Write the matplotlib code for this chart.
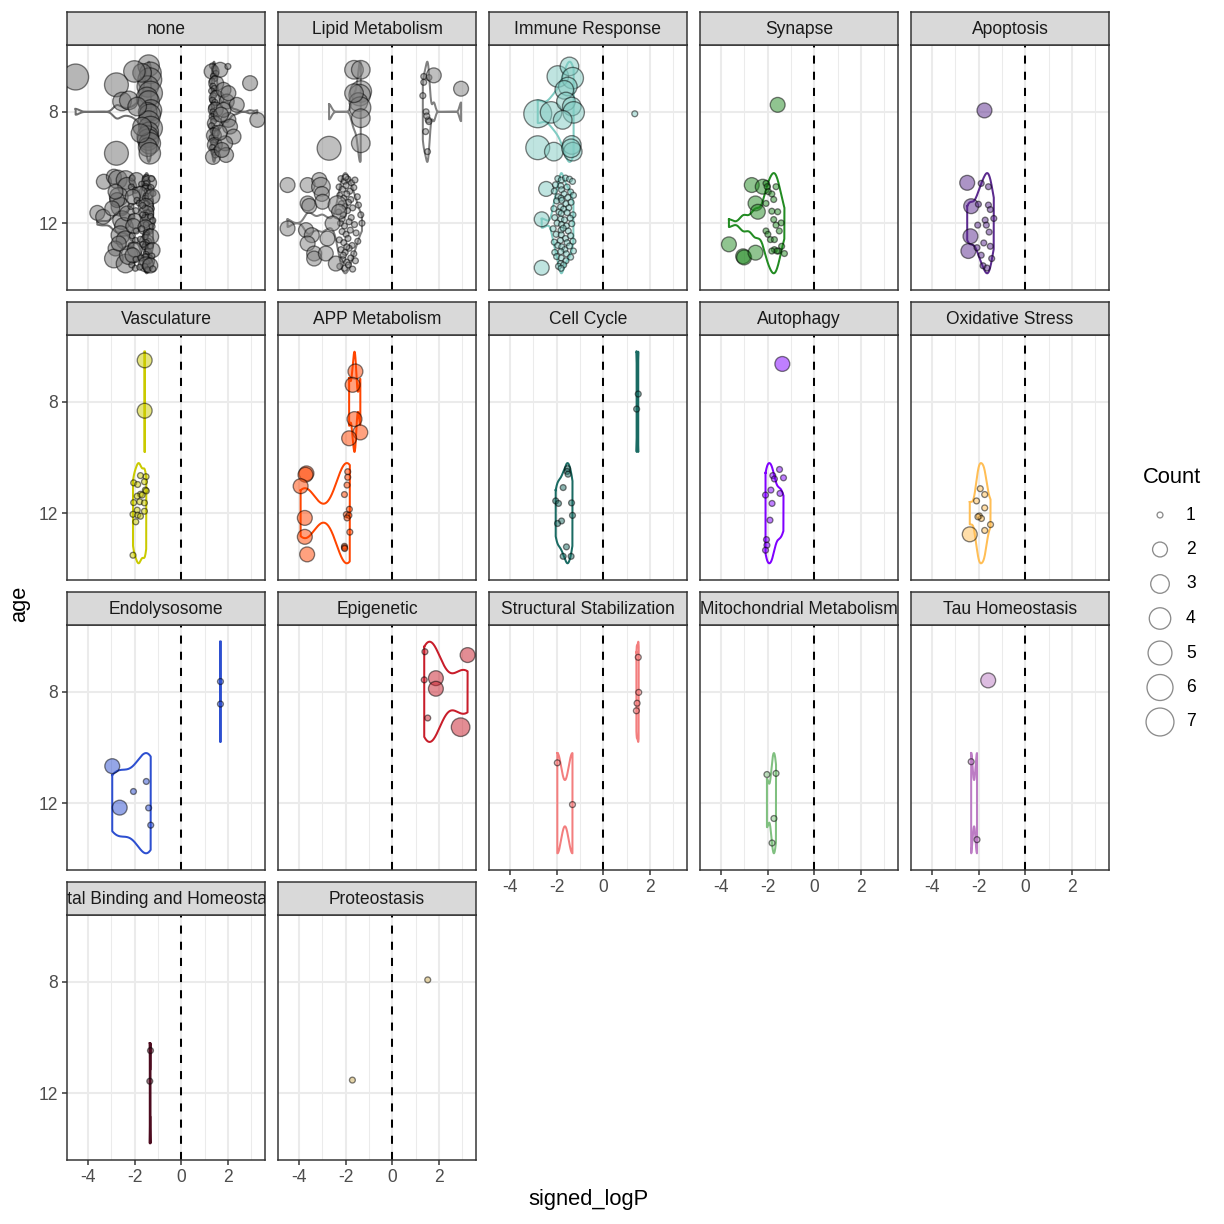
import numpy as np
import matplotlib.pyplot as plt

plt.rcParams.update({'font.family': ['Liberation Sans', 'DejaVu Sans']})
plt.rcParams.update({'axes.unicode_minus': False})

#%% data: signed_logP (x), jittered age (y), Count (n) per category

none_x = [-1.40, -1.32, -1.35, -1.44, -1.32, -1.47, -1.40, -1.30, -1.44, -1.35, -1.40, -1.32, -1.38, -1.44,
          -1.42, -1.35, -1.44, -1.35, -1.68, -1.68, -1.75, -2.01, -2.78, -2.54, -2.25, -1.89, -4.53, -2.78,
          1.34, 1.42, 1.30, 1.48, 1.38, 1.44, 1.32, 1.50, 1.36, 1.42, 1.30, 1.46, 1.38, 1.52, 1.34, 1.44,
          1.40, 1.30, 1.48, 1.36, 1.42, 1.32, 1.50, 1.38, 1.44, 1.30, 1.46, 1.36, 1.52, 1.40, 1.32, 1.48,
          1.38, 1.44, 1.34, 1.50, 1.40, 1.46, 1.36,
          1.81, 1.95, 2.02, 2.09, 2.24, 1.88, 1.92, 2.38, 2.02, 1.67, 2.00, 2.95, 3.26, 1.81, 1.74, 1.70, 1.65,
          -3.32, -3.60, -3.35, -2.89, -2.72, -2.39, -2.32, -2.68, -2.61, -2.75, -2.82, -2.54, -2.46, -2.61,
          -2.39, -2.82, -2.89, -2.39, -2.25, -2.32, -2.96, -2.68,
          -2.10, -1.92, -1.52, -1.48, -1.55, -1.38, -1.27, -1.50, -1.70,
          -2.14, -1.97, -1.53, -1.49, -1.55, -1.46, -1.30, -1.21, -1.76,
          -2.08, -1.90, -1.51, -1.47, -1.54, -1.33, -1.24, -1.50, -1.80,
          -2.16, -1.95, -1.52, -1.48, -1.55, -1.40, -1.28, -1.50, -1.66,
          -2.12, -1.98, -1.53, -1.49, -1.56, -1.45, -1.31, -1.22, -1.65,
          -2.06, -1.93, -1.51, -1.47, -1.54, -1.36, -1.25, -1.50, -1.70,
          -2.10, -1.96, -1.52, -1.48, -1.55, -1.41, -1.29, -1.50, -1.75,
          -2.15, -1.99, -1.53, -1.49, -1.57, -1.43, -1.32, -1.23, -1.64,
          -2.09, -1.94, -1.51, -1.47, -1.54, -1.38, -1.26, -1.50, -1.73,
          -2.12, -1.97, -1.52, -1.48, -1.56, -1.44, -1.33, -1.22, -1.78]
none_y = [6.34, 6.60, 6.85, 7.09, 7.33, 7.50, 7.63, 7.95, 8.00, 8.11, 8.35, 8.59, 8.70, 8.89,
          9.00, 9.13, 9.27, 9.49, 6.60, 8.53, 8.77, 6.55, 7.03, 7.63, 7.59, 7.81, 6.75, 9.49,
          6.35, 6.45, 6.55, 6.62, 6.72, 6.80, 6.90, 6.98, 7.08, 7.16, 7.25, 7.33, 7.42, 7.50, 7.58, 7.66,
          7.75, 7.84, 7.92, 8.00, 8.08, 8.17, 8.25, 8.34, 8.42, 8.50, 8.59, 8.68, 8.76, 8.85, 8.93, 9.02,
          9.10, 9.19, 9.28, 9.36, 9.45, 9.55, 9.62,
          7.21, 7.63, 8.29, 8.53, 8.89, 9.13, 9.55, 7.75, 7.33, 6.49, 6.37, 6.97, 8.29, 7.93, 9.37, 8.10, 8.75,
          10.51, 11.63, 11.77, 10.33, 10.43, 10.45, 10.69, 11.05, 11.41, 11.17, 10.87, 11.89, 12.13, 12.43,
          12.61, 12.91, 13.27, 13.45, 13.15, 11.65, 11.47, 12.73,
          10.38, 10.45, 10.36, 10.52, 10.41, 10.55, 10.40, 10.58, 10.60,
          10.70, 10.82, 10.68, 10.90, 10.74, 10.85, 10.72, 10.93, 10.95,
          11.05, 11.18, 11.02, 11.25, 11.10, 11.22, 11.04, 11.30, 11.28,
          11.40, 11.55, 11.38, 11.60, 11.45, 11.62, 11.48, 11.64, 11.36,
          11.78, 11.92, 11.72, 11.98, 11.80, 11.95, 11.76, 11.90, 11.70,
          12.10, 12.28, 12.05, 12.32, 12.15, 12.30, 12.12, 12.35, 12.20,
          12.45, 12.62, 12.42, 12.68, 12.50, 12.65, 12.48, 12.70, 12.58,
          12.80, 12.95, 12.78, 13.02, 12.85, 13.00, 12.82, 12.97, 12.76,
          13.15, 13.30, 13.12, 13.38, 13.20, 13.35, 13.18, 13.40, 13.25,
          13.50, 13.62, 13.48, 13.66, 13.55, 13.68, 13.52, 13.64, 13.58]
none_n = [4, 4, 5, 4, 5, 4, 4, 4, 3, 4, 4, 5, 3, 4, 4, 4, 3, 4, 3, 3, 3, 4, 5, 3, 3, 3, 6, 5,
          1, 1, 2, 1, 1, 1, 1, 2, 1, 1, 1, 1, 1, 2, 1, 1, 1, 1, 2, 1, 1, 1, 1, 1, 2, 1, 1, 1, 1, 2,
          1, 1, 1, 2, 1, 1, 1, 1, 2,
          2, 2, 2, 2, 2, 2, 2, 2, 2, 2, 1, 2, 2, 2, 2, 2, 2,
          2, 2, 2, 2, 3, 3, 3, 3, 3, 2, 2, 3, 3, 3, 3, 2, 3, 3, 3, 2, 2, 2,
          1, 2, 1, 1, 1, 2, 1, 1, 1,
          1, 1, 1, 2, 1, 1, 1, 1, 2,
          2, 1, 1, 1, 1, 1, 2, 1, 1,
          1, 1, 2, 1, 1, 1, 1, 2, 1,
          1, 2, 1, 1, 1, 2, 1, 1, 1,
          2, 1, 1, 1, 2, 1, 1, 1, 1,
          1, 1, 1, 2, 1, 1, 2, 1, 1,
          1, 2, 1, 1, 1, 1, 1, 2, 1,
          2, 1, 1, 2, 1, 1, 1, 1, 1,
          1, 1, 2, 1, 1, 1, 2, 1, 1]

lipid_x = [-1.64, -1.35, -1.35, -1.40, -1.45, -1.38, -1.64, -1.35, -1.35, -2.71,
           1.35, 1.35, 1.57, 1.31, 1.45, 1.54, 1.57, 1.43, 1.51, 1.48, 1.78, 2.95,
           -2.20, -2.05, -1.90, -1.75, -1.60, -2.28, -2.12, -1.98, -1.82, -1.65,
           -2.25, -2.08, -1.95, -1.78, -1.50, -2.18, -2.02, -1.88, -1.70, -1.45,
           -2.30, -2.10, -1.92, -1.76, -1.35, -2.22, -2.05, -1.85, -1.62, -1.30,
           -2.15, -1.98, -1.80, -1.55, -2.27, -2.08, -1.90, -1.72, -1.48, -2.20,
           -2.02, -1.85, -1.65, -2.12, -1.95, -1.78, -1.58, -2.25, -2.05, -1.88,
           -1.70, -2.00, -2.15, -1.95, -2.10,
           -4.49, -3.63, -3.13, -3.06, -3.02, -3.63, -3.56, -2.99, -2.35, -2.28,
           -4.49, -3.70, -3.45, -2.78, -2.56, -3.63, -3.35, -3.35, -2.85, -2.42]
lipid_y = [6.49, 6.49, 7.27, 7.40, 7.65, 7.85, 7.33, 8.23, 9.13, 9.31,
           6.73, 6.94, 6.77, 7.42, 8.00, 8.29, 8.35, 8.71, 9.43, 8.15, 6.69, 7.17,
           10.40, 10.50, 10.42, 10.55, 10.45, 10.70, 10.78, 10.65, 10.85, 10.72,
           11.00, 11.10, 10.95, 11.15, 11.05, 11.30, 11.40, 11.25, 11.45, 11.35,
           11.60, 11.70, 11.55, 11.80, 11.70, 12.00, 12.10, 11.95, 12.05, 12.00,
           12.30, 12.40, 12.25, 12.35, 12.60, 12.70, 12.55, 12.80, 12.65, 12.95,
           13.05, 12.90, 13.10, 13.30, 13.40, 13.25, 13.35, 13.55, 13.62, 13.50,
           13.65, 10.35, 11.85, 12.85, 13.15,
           10.63, 10.63, 10.45, 10.69, 10.95, 11.29, 11.38, 11.23, 11.35, 11.59,
           12.19, 12.25, 12.43, 12.55, 12.01, 12.73, 13.09, 13.27, 13.09, 13.45]
lipid_n = [3, 3, 4, 4, 3, 4, 3, 3, 3, 5,
           1, 1, 1, 1, 1, 1, 1, 1, 1, 1, 2, 2,
           1, 1, 1, 1, 1, 1, 1, 1, 1, 1, 1, 1, 1, 1, 1, 1, 1, 1, 1, 1,
           1, 1, 1, 1, 1, 1, 1, 1, 1, 1, 1, 1, 1, 1, 1, 1, 1, 1, 1, 1,
           1, 1, 1, 1, 1, 1, 1, 1, 1, 1, 1, 1, 1, 1, 1,
           2, 2, 2, 3, 2, 2, 2, 2, 3, 2, 2, 2, 2, 2, 2, 2, 2, 2, 2, 2]

immune_x = [-2.81, -2.24, -1.95, -1.45, -1.31, -1.52, -1.67, -1.60, -1.35, -1.27, -1.74, -2.81, -2.12,
            -1.35, -1.31, -1.38,
            1.35,
            -2.45, -2.64, -2.64,
            -1.95, -1.80, -1.62, -1.45, -1.32, -2.05, -1.82, -1.55,
            -2.10, -1.79, -1.68, -1.40, -1.28, -1.93, -1.81, -1.52,
            -2.00, -1.78, -1.60, -1.38, -1.83, -2.12, -1.48, -1.70,
            -1.90, -1.80, -1.55, -1.30, -2.08, -1.82, -1.66, -1.42,
            -1.98, -1.79, -1.58, -1.35, -2.15, -1.81, -1.50, -1.72,
            -2.02, -1.80, -1.62, -1.40, -1.84, -2.10, -1.30, -1.55,
            -1.95, -1.78, -1.65, -1.45, -1.82, -2.08, -1.28, -1.58,
            -2.00, -1.80, -1.60, -1.40, -1.83, -1.92, -1.70, -1.81]
immune_y = [8.07, 8.02, 6.73, 6.37, 6.79, 7.09, 7.21, 7.63, 7.81, 8.02, 8.29, 9.29, 9.43,
            9.19, 9.43, 9.31,
            8.07,
            10.77, 11.86, 13.60,
            10.40, 10.45, 10.38, 10.42, 10.50, 10.62, 10.66, 10.70,
            10.85, 10.80, 10.95, 10.88, 11.00, 11.05, 11.10, 11.08,
            11.20, 11.18, 11.30, 11.25, 11.42, 11.48, 11.45, 11.50,
            11.60, 11.65, 11.62, 11.70, 11.80, 11.85, 11.88, 11.82,
            12.00, 12.05, 12.10, 12.02, 12.20, 12.25, 12.28, 12.18,
            12.40, 12.42, 12.55, 12.45, 12.62, 12.68, 12.65, 12.70,
            12.80, 12.85, 12.95, 12.82, 13.02, 13.05, 13.00, 13.10,
            13.20, 13.25, 13.35, 13.22, 13.45, 13.55, 13.50, 13.62]
immune_n = [7, 4, 4, 3, 4, 3, 3, 3, 3, 4, 3, 5, 3, 3, 3, 3,
            1,
            2, 2, 2,
            1, 1, 1, 1, 1, 1, 1, 1, 1, 1, 1, 1, 1, 1, 1, 1,
            1, 1, 1, 1, 1, 1, 1, 1, 1, 1, 1, 1, 1, 1, 1, 1,
            1, 1, 1, 1, 1, 1, 1, 1, 1, 1, 1, 1, 1, 1, 1, 1,
            1, 1, 1, 1, 1, 1, 1, 1, 1, 1, 1, 1, 1, 1, 1, 1]

synapse_x = [-1.57,
             -2.68, -2.21, -2.52, -2.42, -3.66, -3.05, -3.01, -2.52,
             -2.07, -2.02, -1.97, -1.82, -1.64, -1.74, -2.07, -1.82, -1.57, -1.74, -1.42, -1.64,
             -1.50, -2.07, -1.99, -1.88, -1.71, -1.40, -1.71, -1.54, -1.28, -1.82, -1.60]
synapse_y = [7.75,
             10.63, 10.69, 11.29, 11.59, 12.76, 13.19, 13.23, 13.06,
             10.57, 10.69, 10.87, 10.95, 10.69, 11.15, 11.29, 11.57, 11.59, 11.87, 11.99, 12.07,
             12.28, 12.28, 12.40, 12.59, 12.59, 12.83, 12.95, 13.00, 13.09, 13.00, 13.00]
synapse_n = [2,
             2, 2, 2, 2, 2, 2, 2, 2,
             1, 1, 1, 1, 1, 1, 1, 1, 1, 1, 1, 1, 1, 1, 1, 1, 1, 1, 1, 1, 1, 1, 1]

apoptosis_x = [-1.75, -2.49, -2.32, -2.35, -2.44,
               -1.89, -1.58, -2.01, -1.58, -1.50, -1.35, -1.72, -2.04, -1.67, -1.55, -1.78, -1.50,
               -2.07, -1.89, -1.44, -1.81, -1.64]
apoptosis_y = [7.95, 10.55, 11.39, 12.47, 13.00,
               10.57, 10.69, 11.32, 11.35, 11.51, 11.83, 11.89, 12.07, 12.07, 12.32, 12.71, 12.83,
               12.88, 13.15, 13.27, 13.53, 13.61]
apoptosis_n = [2, 2, 2, 2, 2, 1, 1, 1, 1, 1, 1, 1, 1, 1, 1, 1, 1, 1, 1, 1, 1, 1]

vascul_x = [-1.57, -1.57,
            -1.75, -1.51, -2.04, -1.87, -1.58, -1.54, -1.75, -1.89, -1.68, -1.50, -2.04, -1.78,
            -1.58, -1.89, -1.58, -2.07, -1.87, -1.75, -1.95, -2.07]
vascul_y = [6.51, 8.32,
            10.65, 10.69, 10.91, 10.97, 10.87, 11.17, 11.32, 11.39, 11.35, 11.20, 11.62, 11.59,
            11.63, 11.89, 11.93, 12.04, 12.07, 12.11, 12.31, 13.51]
vascul_n = [2, 2, 1, 1, 1, 1, 1, 1, 1, 1, 1, 1, 1, 1, 1, 1, 1, 1, 1, 1, 1, 1]

app_x = [-1.58, -1.70, -1.62, -1.37, -1.85,
         -3.68, -3.72, -3.93, -3.75, -3.75, -3.65,
         -1.91, -1.91, -1.94, -2.05, -1.84, -1.97, -1.86, -1.94, -1.82, -2.05, -2.05, -2.04]
app_y = [6.91, 7.39, 8.62, 9.10, 9.31,
         10.57, 10.62, 11.03, 12.17, 12.85, 13.48,
         10.51, 10.71, 10.99, 11.33, 11.86, 12.05, 12.08, 12.17, 12.68, 13.19, 13.24, 13.27]
app_n = [2, 2, 2, 2, 2, 2, 2, 2, 2, 2, 2, 1, 1, 1, 1, 1, 1, 1, 1, 1, 1, 1, 1]

cellcycle_x = [1.50, 1.43,
               -1.53, -1.55, -1.51, -1.72, -2.04, -1.92, -1.36, -1.32, -1.79, -1.96, -1.58, -1.72, -1.38]
cellcycle_y = [7.72, 8.26,
               10.40, 10.50, 10.60, 11.08, 11.56, 11.65, 11.63, 12.08, 12.28, 12.37, 13.21, 13.55, 13.55]
cellcycle_n = [1, 1, 1, 1, 1, 1, 1, 1, 1, 1, 1, 1, 1, 1, 1]

autophagy_x = [-1.37,
               -1.49, -1.78, -1.32, -1.71, -1.86, -2.09, -1.47, -1.81, -1.90, -2.05, -2.03, -2.09]
autophagy_y = [6.64,
               10.43, 10.65, 10.73, 10.77, 11.17, 11.35, 11.29, 11.65, 12.25, 12.95, 13.15, 13.33]
autophagy_n = [2, 1, 1, 1, 1, 1, 1, 1, 1, 1, 1, 1, 1]

oxid_x = [-1.93, -1.74, -2.09, -1.74, -1.97, -1.88, -2.03, -1.49, -1.74, -2.38]
oxid_y = [11.12, 11.33, 11.56, 11.81, 12.10, 12.19, 12.13, 12.41, 12.62, 12.76]
oxid_n = [1, 1, 1, 1, 1, 1, 1, 1, 1, 2]

endo_x = [1.68, 1.68, -2.96, -2.64, -2.05, -1.50, -1.40, -1.31]
endo_y = [7.63, 8.44, 10.67, 12.16, 11.58, 11.22, 12.17, 12.79]
endo_n = [1, 1, 2, 2, 1, 1, 1, 1]

epi_x = [1.40, 3.23, 1.37, 1.87, 1.87, 1.52, 2.93]
epi_y = [6.56, 6.68, 7.57, 7.51, 7.89, 8.94, 9.27]
epi_n = [1, 2, 1, 2, 2, 1, 3]

struct_x = [1.50, 1.52, 1.45, 1.42, -1.97, -1.32]
struct_y = [6.76, 8.02, 8.41, 8.68, 10.55, 12.05]
struct_n = [1, 1, 1, 1, 1, 1]

mito_x = [-2.03, -1.64, -1.73, -1.81]
mito_y = [10.97, 10.93, 12.55, 13.43]
mito_n = [1, 1, 1, 1]

tau_x = [-1.59, -2.32, -2.07]
tau_y = [7.59, 10.51, 13.31]
tau_n = [2, 1, 1]

metal_x = [-1.32, -1.35]
metal_y = [10.47, 11.57]
metal_n = [1, 1]

proteo_x = [1.52, -1.71]
proteo_y = [7.93, 11.53]
proteo_n = [1, 1]

panel_names = ['none', 'Lipid Metabolism', 'Immune Response', 'Synapse', 'Apoptosis',
               'Vasculature', 'APP Metabolism', 'Cell Cycle', 'Autophagy', 'Oxidative Stress',
               'Endolysosome', 'Epigenetic', 'Structural Stabilization', 'Mitochondrial Metabolism',
               'Tau Homeostasis', 'Metal Binding and Homeostasis', 'Proteostasis']
panel_x = [none_x, lipid_x, immune_x, synapse_x, apoptosis_x, vascul_x, app_x, cellcycle_x,
           autophagy_x, oxid_x, endo_x, epi_x, struct_x, mito_x, tau_x, metal_x, proteo_x]
panel_y = [none_y, lipid_y, immune_y, synapse_y, apoptosis_y, vascul_y, app_y, cellcycle_y,
           autophagy_y, oxid_y, endo_y, epi_y, struct_y, mito_y, tau_y, metal_y, proteo_y]
panel_n = [none_n, lipid_n, immune_n, synapse_n, apoptosis_n, vascul_n, app_n, cellcycle_n,
           autophagy_n, oxid_n, endo_n, epi_n, struct_n, mito_n, tau_n, metal_n, proteo_n]
ages = [8, 12]
counts = [1, 2, 3, 4, 5, 6, 7]

colors = ['#6E6E6E', '#808080', '#80CBC2', '#228B22', '#5B2A8E', '#CACA00', '#FF4500', '#1A6B63',
          '#8000FF', '#FFBE55', '#2D4FD0', '#C81D2A', '#F37E7E', '#80C080', '#BC7CC4', '#4D0B1F',
          '#CBAA55']

#%% helpers

W = H = 1224.0


def px_box(left, top, width, height):
    return [left / W, 1 - (top + height) / H, width / W, height / H]


def point_area(n):
    # ggplot area scale, range 1-6, shape 21 with stroke 0.5
    size = 1 + 5 * np.sqrt((np.asarray(n, dtype=float) - 1) / 6)
    return (0.82 * (2.845 * size + 0.945)) ** 2


def bw_nrd0(x):
    hi = np.std(x, ddof=1)
    q75, q25 = np.percentile(x, [75, 25])
    lo = min(hi, (q75 - q25) / 1.34)
    if lo == 0:
        lo = hi or abs(x[0]) or 1.0
    return 0.9 * lo * len(x) ** -0.2


def draw_violin(ax, x, centre, color, half=1.8):
    x = np.asarray(x, dtype=float)
    if len(x) < 2:
        return
    bw = bw_nrd0(x)
    grid = np.linspace(x.min(), x.max(), 512)
    dens = np.exp(-0.5 * ((grid[:, None] - x[None, :]) / bw) ** 2).sum(axis=1)
    w = dens / dens.max() * half
    xs = np.concatenate([grid, grid[::-1], grid[:1]])
    ys = np.concatenate([centre - w, (centre + w)[::-1], [centre - w[0]]])
    ax.plot(xs, ys, color=color, lw=1.07, zorder=3, solid_joinstyle='round')


#%% figure

fig = plt.figure(figsize=(9, 9), dpi=136)

col_left = [67, 278, 489, 700, 911]
row_top = [45, 335, 625, 915]
pw, ph, sh = 198, 245, 33
border = '#333333'
fs_small = 9.3
fs_title = 11.6

for i, name in enumerate(panel_names):
    r, c = divmod(i, 5)
    ax = fig.add_axes(px_box(col_left[c], row_top[r], pw, ph))
    x = np.asarray(panel_x[i])
    y = np.asarray(panel_y[i])
    n = np.asarray(panel_n[i])
    grp = np.where(y < 10, ages[0], ages[1])

    ax.axvline(0, color='black', lw=1.07, linestyle=(0, (4, 4)), zorder=2)
    # one violin per age and direction of change
    for a in ages:
        for pos in (False, True):
            sel = (grp == a) & ((x > 0) == pos)
            draw_violin(ax, x[sel], a, colors[i])
    ax.scatter(x, y, s=point_area(n), facecolor=colors[i], alpha=0.5,
               edgecolor='black', linewidths=0.7, zorder=4)

    ax.set_xlim(-4.9, 3.59)
    ax.set_ylim(14.4, 5.6)
    ax.set_xticks([-4, -2, 0, 2])
    ax.set_xticks([-3, -1, 1, 3], minor=True)
    ax.set_yticks([8, 12])
    ax.set_axisbelow(True)
    ax.grid(which='major', color='#EBEBEB', lw=1.07)
    ax.grid(which='minor', axis='x', color='#EBEBEB', lw=0.55)
    ax.tick_params(which='minor', length=0)
    ax.tick_params(which='major', length=2.75, width=0.8, color=border, labelsize=fs_small,
                   labelcolor='#4D4D4D', pad=2.2)
    if i + 5 < len(panel_names):
        ax.tick_params(bottom=False, labelbottom=False)
    if c > 0:
        ax.tick_params(left=False, labelleft=False)
    for s in ax.spines.values():
        s.set_color(border)
        s.set_linewidth(0.8)

    # facet strip
    sax = fig.add_axes(px_box(col_left[c], row_top[r] - sh, pw, sh))
    sax.set_facecolor('#D9D9D9')
    sax.set_xticks([])
    sax.set_yticks([])
    for s in sax.spines.values():
        s.set_color(border)
        s.set_linewidth(0.8)
    sax.text(0.5, 0.48, name, ha='center', va='center', fontsize=fs_small, color='#1A1A1A',
             transform=sax.transAxes, clip_on=True)

fig.text(20 / W, 1 - 604 / H, 'age', rotation=90, ha='center', va='center', fontsize=fs_title)
fig.text(588 / W, 1 - 1200 / H, 'signed_logP', ha='center', va='center', fontsize=fs_title)

# size legend
lax = fig.add_axes(px_box(1135, 497.75, 89, 241.5))
lax.set_xlim(0, 1)
lax.set_ylim(7.5, 0.5)
lax.axis('off')
lax.scatter([0.281] * len(counts), counts, s=point_area(counts), facecolor='white',
            edgecolor=(0, 0, 0, 0.45), linewidths=0.7, clip_on=False)
for cnt in counts:
    lax.text(0.573, cnt, str(cnt), ha='left', va='center', fontsize=fs_small, color='black')
fig.text(1143 / W, 1 - 478 / H, 'Count', ha='left', va='center', fontsize=fs_title)

fig.savefig('out.png', dpi=136)
